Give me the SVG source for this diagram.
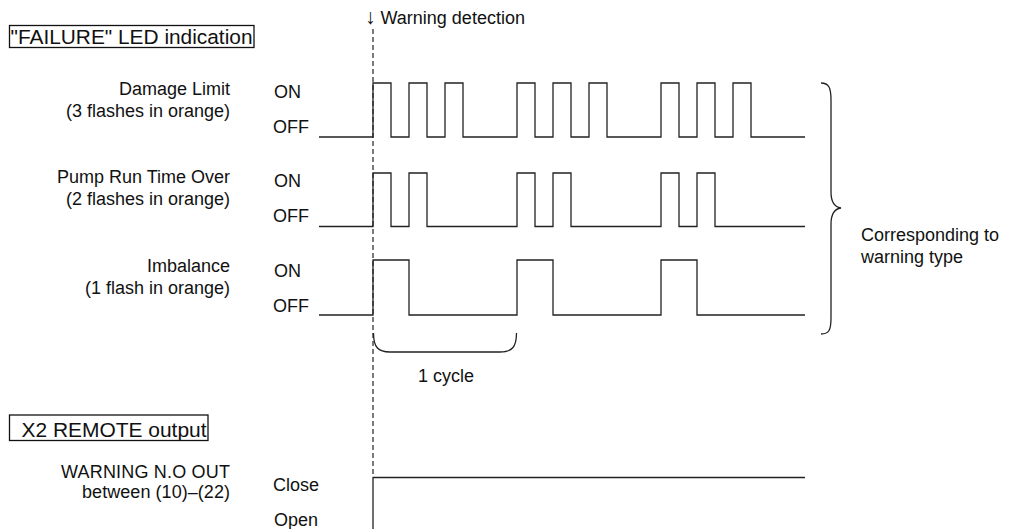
<svg xmlns="http://www.w3.org/2000/svg" width="1013" height="529" viewBox="0 0 1013 529">
<style>
text{font-family:"Liberation Sans",Arial,sans-serif;font-size:18px;fill:#111}
.r{text-anchor:end}
.h{font-size:20.5px}
.arr{font-size:21px}
.w{fill:none;stroke:#222;stroke-width:1.3}
.box{fill:none;stroke:#111;stroke-width:1.3}
.dash{fill:none;stroke:#222;stroke-width:1.2;stroke-dasharray:5 3}
</style>
<rect width="1013" height="529" fill="#fff"/>
<g id="header-failure">
<rect class="box" x="9.5" y="25.5" width="244.5" height="22"/>
<text class="h" x="10.5" y="44" textLength="242" lengthAdjust="spacingAndGlyphs">"FAILURE" LED indication</text>
</g>
<g id="warning-detection">
<text x="365" y="24"><tspan class="arr">↓</tspan> Warning detection</text>
<line class="dash" x1="373" y1="29" x2="373" y2="477"/>
</g>
<g id="row-damage">
<text class="r" x="230" y="95">Damage Limit</text>
<text class="r" x="230" y="117">(3 flashes in orange)</text>
<text x="274" y="98">ON</text>
<text x="273" y="133">OFF</text>
<path class="w" d="M319,137 H373 V83 H391 V137 H409 V83 H427 V137 H445 V83 H463 V137 H517 V83 H535 V137 H553 V83 H571 V137 H589 V83 H607 V137 H661 V83 H679 V137 H697 V83 H715 V137 H733 V83 H751 V137 H805"/>
</g>
<g id="row-pump">
<text class="r" x="230" y="183">Pump Run Time Over</text>
<text class="r" x="230" y="205">(2 flashes in orange)</text>
<text x="274" y="187">ON</text>
<text x="273" y="222">OFF</text>
<path class="w" d="M319,226.5 H373 V173 H391 V226.5 H409 V173 H427 V226.5 H517 V173 H535 V226.5 H553 V173 H571 V226.5 H661 V173 H679 V226.5 H697 V173 H715 V226.5 H805"/>
</g>
<g id="row-imbalance">
<text class="r" x="230" y="272">Imbalance</text>
<text class="r" x="230" y="294">(1 flash in orange)</text>
<text x="274" y="277">ON</text>
<text x="273" y="312">OFF</text>
<path class="w" d="M319,315 H373 V260 H409 V315 H517 V260 H553 V315 H661 V260 H697 V315 H805"/>
</g>
<g id="cycle">
<path class="w" d="M373.5,333 C373.5,347 378,352 390,352 L500,352 C512,352 516.5,347 516.5,333"/>
<text x="418" y="382">1 cycle</text>
</g>
<g id="warning-type">
<path class="w" d="M821,83 C829,83 831,88 831,100 L831,192 C831,202 834,207 841,208 C834,209 831,214 831,224 L831,318 C831,330 829,334 821,334"/>
<text x="861" y="241">Corresponding to</text>
<text x="861" y="263">warning type</text>
</g>
<g id="header-x2">
<rect class="box" x="9.5" y="415" width="198.5" height="25.5"/>
<text class="h" x="21.5" y="436.5" textLength="185" lengthAdjust="spacingAndGlyphs">X2 REMOTE output</text>
</g>
<g id="row-x2">
<text class="r" x="230" y="478" textLength="169" lengthAdjust="spacing">WARNING N.O OUT</text>
<text class="r" x="230" y="498" textLength="148" lengthAdjust="spacing">between (10)–(22)</text>
<text x="273" y="491">Close</text>
<text x="274" y="526">Open</text>
<path class="w" d="M373,530 V477.5 H805"/>
</g>
</svg>
